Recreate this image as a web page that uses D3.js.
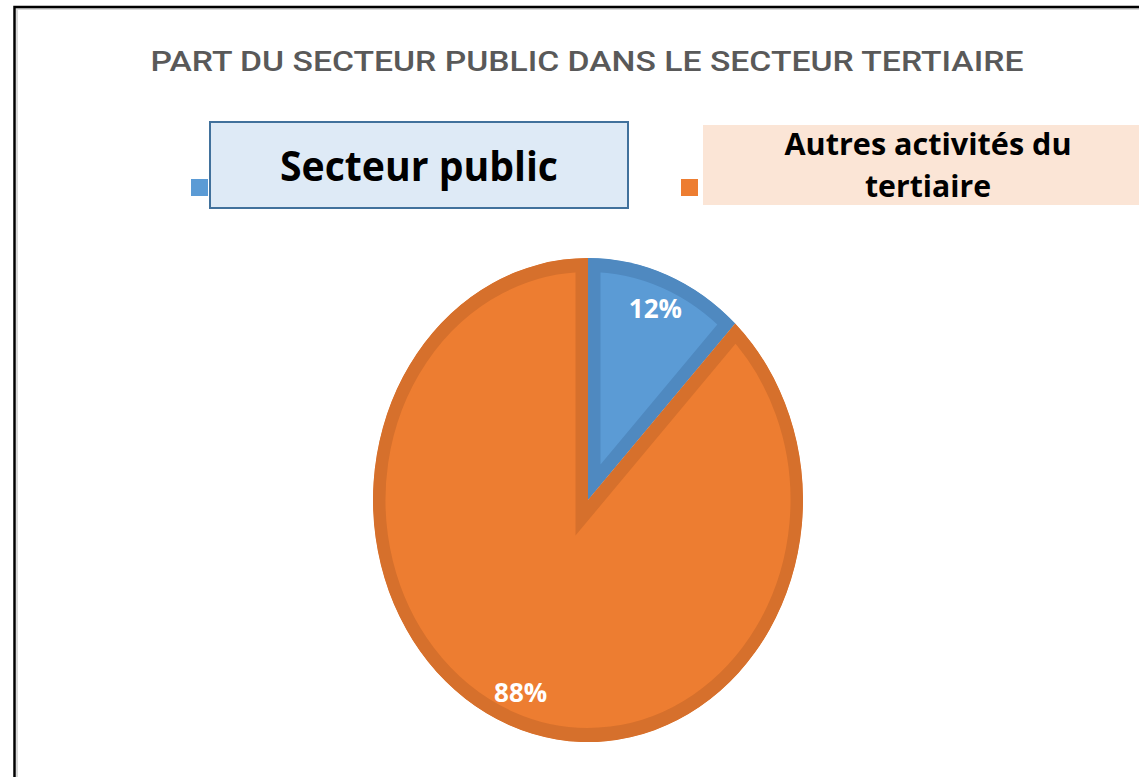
<!DOCTYPE html>
<html>
<head>
<meta charset="utf-8">
<script src="https://cdn.jsdelivr.net/npm/d3@7"></script>
<style>
  body { margin: 0; background: #fff; }
  svg { display: block; }
</style>
</head>
<body>
<div id="app"></div>
<script>
const width = 1139,
      height = 777;

// data
const categories = ["Secteur public", "Autres activités du tertiaire"];
const values = [12, 88];
const labels = ["12%", "88%"];
const legendLines = [["Secteur public"], ["Autres activités du", "tertiaire"]];

const fills = ["#5b9bd5", "#ed7d31"];
const edges = ["#4f89c0", "#d6702c"];

const svg = d3.select("#app").append("svg")
    .attr("width", width)
    .attr("height", height);

// outer frame (runs off the right and bottom)
svg.append("rect")
    .attr("x", 17).attr("y", 9)
    .attr("width", width).attr("height", height)
    .attr("fill", "none").attr("stroke", "#d9d9d9").attr("stroke-width", 2);
svg.append("rect")
    .attr("x", 14.5).attr("y", 7)
    .attr("width", width + 10).attr("height", height + 10)
    .attr("fill", "none").attr("stroke", "#000").attr("stroke-width", 2.5);

// title
svg.append("text")
    .attr("x", 587).attr("y", 71)
    .attr("text-anchor", "middle")
    .attr("font-family", "Roboto")
    .attr("font-size", 28)
    .attr("font-weight", 500)
    .attr("fill", "#595959")
    .attr("textLength", 873)
    .attr("lengthAdjust", "spacingAndGlyphs")
    .text("PART DU SECTEUR PUBLIC DANS LE SECTEUR TERTIAIRE");

// legend
const legendBoxes = [
    {sq: [191, 179], box: [210, 122, 418, 86], fill: "#deeaf6", stroke: "#41719c", size: 42, lens: [278], ys: [181]},
    {sq: [681, 179], box: [703, 125, 440, 80], fill: "#fbe5d6", stroke: "none", size: 31, lens: [287, 126], ys: [155, 197]}
];

legendBoxes.forEach((l, i) => {
    const g = svg.append("g");
    g.append("rect")
        .attr("x", l.sq[0]).attr("y", l.sq[1])
        .attr("width", 17).attr("height", 17)
        .attr("fill", fills[i]);
    g.append("rect")
        .attr("x", l.box[0]).attr("y", l.box[1])
        .attr("width", l.box[2]).attr("height", l.box[3])
        .attr("fill", l.fill)
        .attr("stroke", l.stroke)
        .attr("stroke-width", 2);
    const cx = i === 0 ? 419 : 928;
    legendLines[i].forEach((line, j) => {
        g.append("text")
            .attr("x", cx).attr("y", l.ys[j])
            .attr("text-anchor", "middle")
            .attr("font-family", "Open Sans")
            .attr("font-weight", 700)
            .attr("font-size", l.size)
            .attr("fill", "#000")
            .attr("textLength", l.lens[j])
            .attr("lengthAdjust", "spacingAndGlyphs")
            .text(line);
    });
});

// pie (drawn as circle, stretched into the ellipse)
const cx = 588, cy = 500, r = 215, stretch = 242 / 215;

const pie = d3.pie().sort(null).value(d => d);
const arcs = pie(values);

const arc = d3.arc().innerRadius(0).outerRadius(r);
const labelArc = d3.arc().innerRadius(183).outerRadius(183);

const defs = svg.append("defs");
const pieG = svg.append("g")
    .attr("transform", `translate(${cx},${cy}) scale(1,${stretch})`);

arcs.forEach((a, i) => {
    defs.append("clipPath")
        .attr("id", "clip" + i)
        .append("path")
        .attr("d", arc(a));
    pieG.append("path")
        .attr("d", arc(a))
        .attr("fill", fills[i])
        .attr("stroke", edges[i])
        .attr("stroke-width", 25)
        .attr("stroke-linejoin", "miter")
        .attr("stroke-miterlimit", 20)
        .attr("clip-path", `url(#clip${i})`);
});

arcs.forEach((a, i) => {
    const [lx, ly] = labelArc.centroid(a);
    svg.append("text")
        .attr("x", cx + lx)
        .attr("y", cy + ly * stretch + 10)
        .attr("text-anchor", "middle")
        .attr("font-family", "Open Sans")
        .attr("font-weight", 700)
        .attr("font-size", 26)
        .attr("fill", "#fff")
        .text(labels[i]);
});
</script>
</body>
</html>
